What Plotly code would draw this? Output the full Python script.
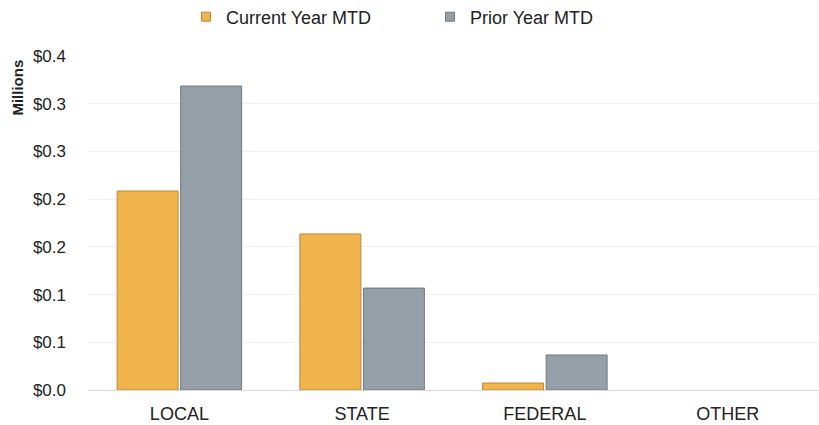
import plotly.graph_objects as go

categories = ["LOCAL", "STATE", "FEDERAL", "OTHER"]
current_year_mtd = [0.2085, 0.1635, 0.0073, 0.0]
prior_year_mtd = [0.3185, 0.1068, 0.0367, 0.0]

tick_vals = [0.0, 0.05, 0.10, 0.15, 0.20, 0.25, 0.30, 0.35]
tick_text = ["$0.0", "$0.1", "$0.1", "$0.2", "$0.2", "$0.3", "$0.3", "$0.4"]

series = [
    ("Current Year MTD", current_year_mtd, "#F1B44C", "#B8893A"),
    ("Prior Year MTD", prior_year_mtd, "#949FA7", "#6F7880"),
]


def outline_widths(values):
    # no outline on empty bars so zero values stay invisible
    return [0 if v == 0 else 1 for v in values]


fig = go.Figure()
for name, values, fill, edge in series:
    fig.add_trace(go.Bar(
        name=name, x=categories, y=values, showlegend=False,
        marker=dict(color=fill, line=dict(color=edge, width=outline_widths(values))),
    ))
# small square swatches for the legend
for name, values, fill, edge in series:
    fig.add_trace(go.Scatter(
        name=name, x=[None], y=[None], mode="markers",
        marker=dict(symbol="square", size=9, color=fill, line=dict(color=edge, width=1)),
    ))

fig.update_layout(
    width=819, height=425,
    margin=dict(l=88, r=0, t=56, b=35, autoexpand=False),
    paper_bgcolor="white", plot_bgcolor="white",
    font=dict(family="Liberation Sans, Arial, sans-serif", size=17, color="#222222"),
    barmode="group", bargap=0.305, bargroupgap=0.04,
    showlegend=True,
    legend=dict(
        orientation="h", x=0.134, xanchor="left",
        yref="container", y=0.96, yanchor="middle",
        entrywidth=199, entrywidthmode="pixels",
        font=dict(size=18, color="#222222"), itemwidth=30,
    ),
    xaxis=dict(showgrid=False, showline=False, ticks="", tickfont=dict(size=18),
               ticklabelstandoff=11),
    yaxis=dict(
        range=[0, 0.35], tickvals=tick_vals, ticktext=tick_text,
        showgrid=True, gridcolor="#EFEFEF", gridwidth=1,
        zeroline=True, zerolinecolor="#DADADA", zerolinewidth=1,
        ticks="", ticklabelstandoff=21, tickfont=dict(size=17),
    ),
    annotations=[dict(
        text="<b>Millions</b>", textangle=-90, xref="paper", yref="paper",
        x=-0.096, y=0.905, xanchor="center", yanchor="middle",
        showarrow=False, font=dict(size=15, color="#222222"),
    )],
)

fig.write_html("out.html")
